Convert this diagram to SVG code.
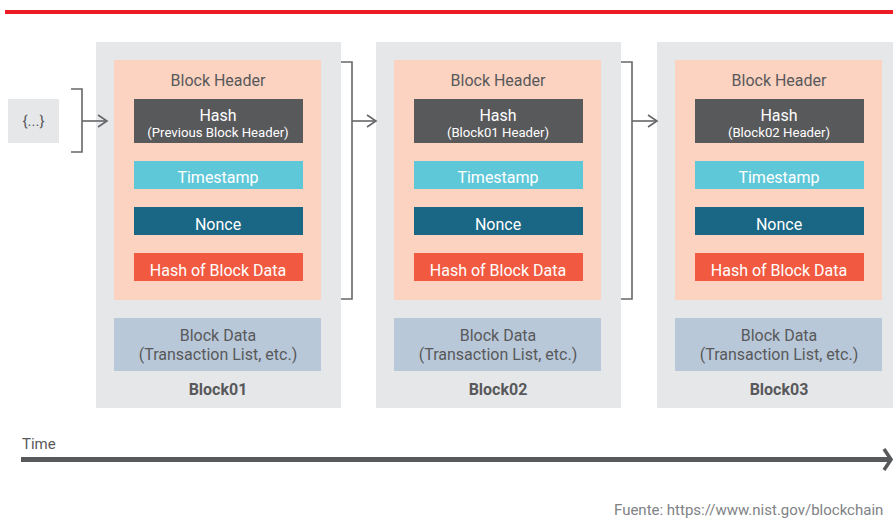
<svg xmlns="http://www.w3.org/2000/svg" width="893" height="518" viewBox="0 0 893 518">
<style>
text{font-family:Roboto,"Liberation Sans",sans-serif;text-anchor:middle;fill:#58595b}
.blk{fill:#e6e7e9}
.hdr{fill:#fcd2c0}
.hash{fill:#58595b}
.ts{fill:#5ec8d8}
.nonce{fill:#196785}
.hbd{fill:#f15a40}
.bd{fill:#b8c8d9}
.t15{font-size:16px}
.t12{font-size:13.2px}
.w{fill:#ffffff}
.lbl{font-size:16px;font-weight:bold}
.con{fill:none;stroke:#666769;stroke-width:1.6}
</style>
<defs>
<marker id="ah" markerWidth="12" markerHeight="14" refX="10" refY="7" orient="auto" markerUnits="userSpaceOnUse">
<path d="M1,1 L10,7 L1,13" fill="none" stroke="#666769" stroke-width="1.6"/>
</marker>
<g id="blocktpl">
<rect class="blk" x="0" y="0" width="245" height="366"/>
<rect class="hdr" x="18" y="18" width="207" height="240"/>
<text class="t15" x="122" y="44">Block Header</text>
<rect class="hash" x="38" y="57" width="169" height="44"/>
<rect class="ts" x="38" y="119" width="169" height="28"/>
<text class="t15 w" x="122" y="141">Timestamp</text>
<rect class="nonce" x="38" y="165" width="169" height="28"/>
<text class="t15 w" x="122" y="188">Nonce</text>
<rect class="hbd" x="38" y="211" width="169" height="28"/>
<text class="t15 w" x="122" y="234">Hash of Block Data</text>
<rect class="bd" x="18" y="276" width="207" height="53"/>
<text class="t15" x="122" y="299">Block Data</text>
<text class="t15" x="122" y="318">(Transaction List, etc.)</text>
</g>
</defs>
<rect x="5" y="10" width="888" height="4" fill="#ed1c24"/>
<g id="prev">
<rect x="8" y="99" width="51" height="44" fill="#e6e7e9"/>
<text x="33.5" y="126" style="font-size:15px">{...}</text>
</g>
<g id="block01" transform="translate(96,42)">
<use href="#blocktpl"/>
<text class="t15 w" x="122" y="79">Hash</text>
<text class="t12 w" x="122" y="95">(Previous Block Header)</text>
<text class="lbl" x="122" y="353">Block01</text>
</g>
<g id="block02" transform="translate(376,42)">
<use href="#blocktpl"/>
<text class="t15 w" x="122" y="79">Hash</text>
<text class="t12 w" x="122" y="95">(Block01 Header)</text>
<text class="lbl" x="122" y="353">Block02</text>
</g>
<g id="block03" transform="translate(657,42)">
<use href="#blocktpl"/>
<text class="t15 w" x="122" y="79">Hash</text>
<text class="t12 w" x="122" y="95">(Block02 Header)</text>
<text class="lbl" x="122" y="353">Block03</text>
</g>
<g id="connectors">
<path class="con" d="M71,89 H82 V152 H71"/>
<path class="con" d="M82,121 H107" marker-end="url(#ah)"/>
<path class="con" d="M341,62 H352 V299 H341"/>
<path class="con" d="M352,121 H376" marker-end="url(#ah)"/>
<path class="con" d="M621,62 H632 V299 H621"/>
<path class="con" d="M632,121 H657" marker-end="url(#ah)"/>
</g>
<g id="timeline">
<text x="22" y="449" style="font-size:15px;text-anchor:start">Time</text>
<rect x="21" y="457" width="868" height="5" fill="#58595b"/>
<path d="M884,449 L891,459.5 L884,470" fill="none" stroke="#58595b" stroke-width="3.5"/>
</g>
<text x="614" y="515" style="font-size:15px;text-anchor:start;fill:#808285">Fuente: https://www.nist.gov/blockchain</text>
</svg>
